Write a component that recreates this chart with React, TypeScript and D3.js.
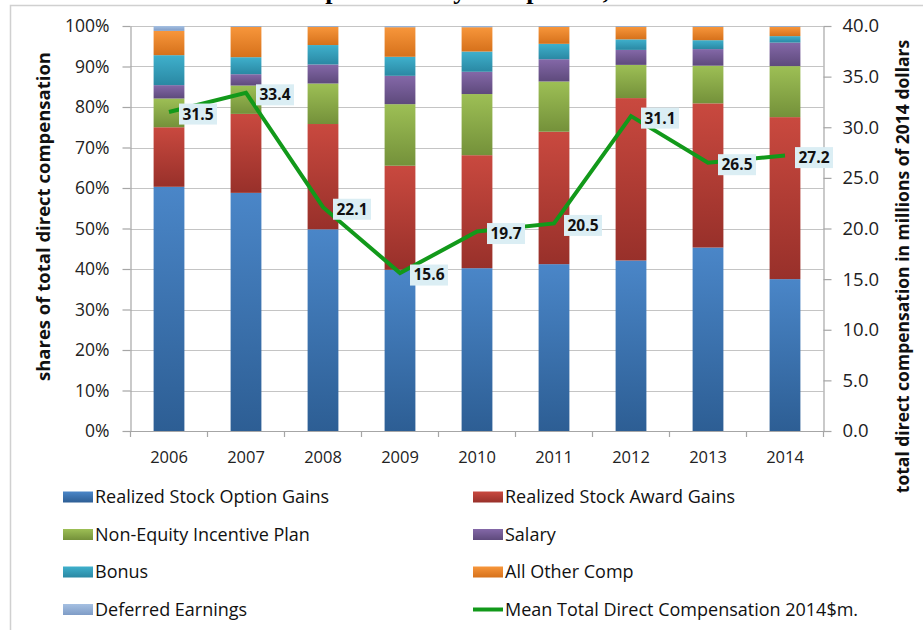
import React, { useEffect, useRef } from 'react';
import * as d3 from 'd3';

const years = ['2006', '2007', '2008', '2009', '2010', '2011', '2012', '2013', '2014'];

// shares of total direct compensation, in percent
const optionGains = [60.3, 58.8, 49.8, 39.8, 40.2, 41.2, 42.1, 45.3, 37.5];
const awardGains = [14.7, 19.5, 26.0, 25.7, 27.9, 32.7, 40.1, 35.6, 40.0];
const nonEquity = [7.1, 7.0, 10.0, 15.2, 15.1, 12.4, 8.2, 9.3, 12.6];
const salary = [3.3, 2.8, 4.7, 7.0, 5.5, 5.5, 3.7, 4.1, 5.8];
const bonus = [7.4, 4.2, 4.8, 4.7, 5.0, 3.8, 2.6, 2.2, 1.6];
const otherComp = [6.0, 7.5, 4.5, 7.3, 6.0, 4.2, 3.1, 3.3, 2.3];
const deferred = [1.2, 0.2, 0.2, 0.3, 0.3, 0.2, 0.2, 0.2, 0.2];

// mean total direct compensation, millions of 2014 dollars
const meanTotal = [31.5, 33.4, 22.1, 15.6, 19.7, 20.5, 31.1, 26.5, 27.2];

const seriesNames = [
  'Realized Stock Option Gains',
  'Realized Stock Award Gains',
  'Non-Equity Incentive Plan',
  'Salary',
  'Bonus',
  'All Other Comp',
  'Deferred Earnings',
];
const seriesValues = [optionGains, awardGains, nonEquity, salary, bonus, otherComp, deferred];
const lineName = 'Mean Total Direct Compensation 2014$m.';

const shareTicks = [0, 0.1, 0.2, 0.3, 0.4, 0.5, 0.6, 0.7, 0.8, 0.9, 1];
const dollarTicks = [0, 5, 10, 15, 20, 25, 30, 35, 40];

// gradient top / bottom for each series
const colorTop = ['#4a86c8', '#c9493f', '#9dbf55', '#8468a8', '#3fb0cc', '#f7963b', '#a5c0e2'];
const colorBottom = ['#2d5e94', '#98302a', '#74913a', '#5e4a7c', '#2a88a3', '#d6711b', '#7f9cc6'];
const lineColor = '#12991a';

const FONT = "'Open Sans', sans-serif";

export default function App() {
  const svgRef = useRef<SVGSVGElement>(null);
  const width = 923;
  const height = 630;

  useEffect(() => {
    if (!svgRef.current) return;
    const svg = d3.select(svgRef.current);
    svg.selectAll('*').remove();

    const left = 130.5;
    const right = 823.5;
    const top = 26;
    const bottom = 431;

    const x = d3.scaleBand<string>().domain(years).range([left, right]).paddingInner(0.6).paddingOuter(0.3);
    const yShare = d3.scaleLinear().domain([0, 1]).range([bottom, top]);
    const yMoney = d3.scaleLinear().domain([0, 40]).range([bottom, top]);

    const table = years.map((yr, i) => {
      const row: Record<string, number | string> = { year: yr };
      seriesNames.forEach((n, k) => (row[n] = seriesValues[k][i]));
      return row;
    });
    const stacked = d3
      .stack<Record<string, number | string>>()
      .keys(seriesNames)
      .value((d, key) => d[key] as number)
      .offset(d3.stackOffsetExpand)(table);

    // gradients
    const defs = svg.append('defs');
    seriesNames.forEach((_, k) => {
      const g = defs
        .append('linearGradient')
        .attr('id', `grad-${k}`)
        .attr('x1', 0)
        .attr('y1', 0)
        .attr('x2', 0)
        .attr('y2', 1);
      g.append('stop').attr('offset', '0%').attr('stop-color', colorTop[k]);
      g.append('stop').attr('offset', '100%').attr('stop-color', colorBottom[k]);
    });

    svg.append('rect').attr('width', width).attr('height', height).attr('fill', '#fff');

    // clipped title above the chart
    svg
      .append('text')
      .attr('x', 420)
      .attr('y', -1)
      .attr('text-anchor', 'middle')
      .attr('font-family', "'Liberation Serif', serif")
      .attr('font-weight', 'bold')
      .attr('font-size', 26)
      .text('Realized CEO Compensation by Component, 2006–2014');

    // chart frame
    svg
      .append('rect')
      .attr('x', 10.5)
      .attr('y', 5.5)
      .attr('width', 940)
      .attr('height', 660)
      .attr('fill', 'none')
      .attr('stroke', '#d0d0d0')
      .attr('stroke-width', 1.5);

    // gridlines
    svg
      .append('g')
      .selectAll('line')
      .data(shareTicks)
      .join('line')
      .attr('x1', left)
      .attr('x2', right)
      .attr('y1', (d) => Math.round(yShare(d)) + 0.5)
      .attr('y2', (d) => Math.round(yShare(d)) + 0.5)
      .attr('stroke', '#c4c4c4')
      .attr('stroke-width', 1.2);

    // bars
    svg
      .append('g')
      .selectAll('g')
      .data(stacked)
      .join('g')
      .attr('fill', (_, k) => `url(#grad-${k})`)
      .selectAll('rect')
      .data((s) => s)
      .join('rect')
      .attr('x', (d) => x(d.data.year as string)!)
      .attr('width', x.bandwidth())
      .attr('y', (d) => yShare(d[1]))
      .attr('height', (d) => Math.max(0, yShare(d[0]) - yShare(d[1])));

    const styleAxis = (g: d3.Selection<SVGGElement, unknown, null, undefined>) => {
      g.select('.domain').attr('stroke', '#a6a6a6').attr('stroke-width', 1.2);
      g.selectAll('.tick line').attr('stroke', '#a6a6a6').attr('stroke-width', 1.2);
      g.selectAll('.tick text').attr('fill', '#222').attr('font-family', FONT);
    };

    // left axis
    const la = svg
      .append('g')
      .attr('transform', `translate(${left},0)`)
      .call(
        d3
          .axisLeft(yShare)
          .tickValues(shareTicks)
          .tickFormat(d3.format('.0%'))
          .tickSize(8)
          .tickSizeOuter(0)
          .tickPadding(13)
      );
    styleAxis(la);
    la.selectAll('.tick text').attr('font-size', 17.5);

    // right axis
    const ra = svg
      .append('g')
      .attr('transform', `translate(${right},0)`)
      .call(
        d3
          .axisRight(yMoney)
          .tickValues(dollarTicks)
          .tickFormat(d3.format('.1f'))
          .tickSize(8)
          .tickSizeOuter(0)
          .tickPadding(11)
      );
    styleAxis(ra);
    ra.selectAll('.tick text').attr('font-size', 18.5);

    // bottom axis: labels under bands, ticks at band boundaries
    const ba = svg
      .append('g')
      .attr('transform', `translate(0,${bottom})`)
      .call(d3.axisBottom(x).tickSize(0).tickSizeOuter(0).tickPadding(20));
    styleAxis(ba);
    ba.selectAll('.tick text').attr('font-size', 16.5);
    const step = x.step();
    const bounds = years.map((yr) => x(yr)! - (step - x.bandwidth()) / 2).concat([right]);
    ba.append('g')
      .selectAll('line')
      .data(bounds)
      .join('line')
      .attr('x1', (d) => d)
      .attr('x2', (d) => d)
      .attr('y1', 0)
      .attr('y2', 6)
      .attr('stroke', '#a6a6a6')
      .attr('stroke-width', 1.2);

    // line series
    const cx = (i: number) => x(years[i])! + x.bandwidth() / 2;
    const line = d3
      .line<number>()
      .x((_, i) => cx(i))
      .y((d) => yMoney(d));
    svg
      .append('path')
      .datum(meanTotal)
      .attr('fill', 'none')
      .attr('stroke', lineColor)
      .attr('stroke-width', 4)
      .attr('stroke-linejoin', 'miter')
      .attr('d', line);

    // data labels
    const lab = svg
      .append('g')
      .selectAll('g')
      .data(meanTotal)
      .join('g')
      .attr('transform', (d, i) => `translate(${cx(i) + 10},${yMoney(d) + 2})`);
    lab
      .append('rect')
      .attr('x', 0)
      .attr('y', -10.5)
      .attr('width', 38)
      .attr('height', 21)
      .attr('fill', '#dbeef4');
    lab
      .append('text')
      .attr('x', 19)
      .attr('y', 0)
      .attr('dy', '0.35em')
      .attr('text-anchor', 'middle')
      .attr('font-family', FONT)
      .attr('font-weight', 'bold')
      .attr('font-size', 15.5)
      .attr('fill', '#111')
      .text((d) => d.toFixed(1));

    // axis titles
    svg
      .append('text')
      .attr('transform', `translate(44,${(43 + 390) / 2}) rotate(-90)`)
      .attr('text-anchor', 'middle')
      .attr('dy', '0.35em')
      .attr('font-family', FONT)
      .attr('font-weight', 'bold')
      .attr('font-size', 18.5)
      .attr('fill', '#111')
      .text('shares of total direct compensation');
    svg
      .append('text')
      .attr('transform', `translate(903,${(30 + 503) / 2}) rotate(-90)`)
      .attr('text-anchor', 'middle')
      .attr('dy', '0.35em')
      .attr('font-family', FONT)
      .attr('font-weight', 'bold')
      .attr('font-size', 17.5)
      .attr('fill', '#111')
      .text('total direct compensation in millions of 2014 dollars');

    // legend
    const legendItems = seriesNames.map((n, k) => ({ name: n, k })).concat([{ name: lineName, k: -1 }]);
    const lg = svg
      .append('g')
      .selectAll('g')
      .data(legendItems)
      .join('g')
      .attr('transform', (_, i) => `translate(${i % 2 === 0 ? 63 : 473},${497 + Math.floor(i / 2) * 37.5})`);
    lg.filter((d) => d.k >= 0)
      .append('rect')
      .attr('x', 0)
      .attr('y', -5.5)
      .attr('width', 30)
      .attr('height', 11)
      .attr('fill', (d) => `url(#grad-${d.k})`);
    lg.filter((d) => d.k < 0)
      .append('line')
      .attr('x1', 0)
      .attr('x2', 30)
      .attr('y1', 0)
      .attr('y2', 0)
      .attr('stroke', lineColor)
      .attr('stroke-width', 4);
    lg.append('text')
      .attr('x', 32)
      .attr('dy', '0.35em')
      .attr('font-family', FONT)
      .attr('font-size', 18)
      .attr('fill', '#111')
      .text((d) => d.name);
  }, []);

  return (
    <svg
      ref={svgRef}
      width={width}
      height={height}
      style={{ position: 'absolute', left: 0, top: 0, display: 'block' }}
    ></svg>
  );
}
